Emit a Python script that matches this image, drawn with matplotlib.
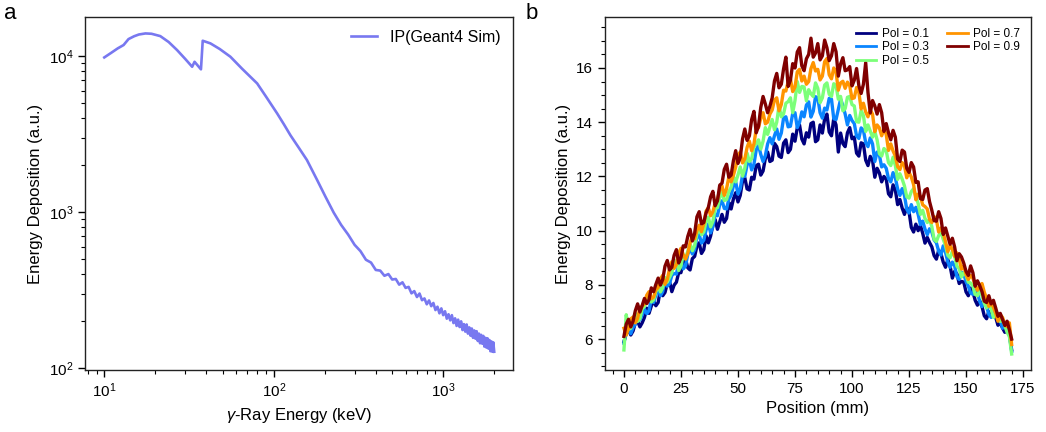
import matplotlib
matplotlib.use("Agg")
import matplotlib.pyplot as plt
from matplotlib.ticker import MultipleLocator

plt.rcParams['font.family'] = ['Liberation Sans', 'DejaVu Sans']
plt.rcParams['mathtext.fontset'] = 'custom'
plt.rcParams['mathtext.rm'] = 'Liberation Sans'
plt.rcParams['mathtext.it'] = 'Liberation Sans:italic'
plt.rcParams['mathtext.bf'] = 'Liberation Sans:bold'

# ---- panel a : IP (Geant4 Sim) spectrum ----
energy_low = [10, 11, 12, 13, 13.9, 15, 16, 17.5, 19, 21.4, 24, 26.9, 30, 33.0, 34.1,
              37.2, 38.1, 42.3, 48, 55.5, 65, 79.8, 90, 104.7, 115, 125.6, 140, 157,
              180, 202, 226]
dep_low = [9800, 10500, 11200, 11770, 12850, 13400, 13750, 13970, 13900, 13430, 12300,
           10920, 9600, 8540, 9190, 8220, 12540, 12060, 11100, 9900, 8300, 6680, 5500,
           4290, 3640, 3100, 2600, 2154, 1610, 1253, 990]
energy_high = list(range(250, 2001, 25))
dep_high = [826, 716, 616, 561, 494, 474, 425, 421, 390, 400,
            369, 372, 342, 354, 326, 331, 301, 311, 285, 300,
            272, 279, 256, 271, 249, 261, 235, 247, 224, 241,
            218, 231, 207, 221, 202, 218, 194, 208, 186, 204,
            183, 199, 175, 191, 171, 190, 166, 182, 161, 179,
            156, 174, 154, 172, 149, 166, 144, 163, 143, 160.5,
            137, 156, 135, 155, 133, 151, 128, 148, 127, 146,
            127]
energy = energy_low + energy_high
deposition = dep_low + dep_high

# ---- panel b : position profiles, 1 mm bins ----
position = list(range(0, 171))
pol_labels = ["Pol = 0.1", "Pol = 0.3", "Pol = 0.5", "Pol = 0.7", "Pol = 0.9"]
pol_colors = ["#00007f", "#0a85ff", "#7cff79", "#ff9400", "#800000"]
pol01 = [5.9, 6.2, 6.35, 6.15, 6.3, 6.6, 6.66, 6.45, 6.6, 6.8,
         7.14, 6.95, 7.22, 7.4, 7.23, 7.35, 7.84, 7.6, 7.72, 8.05,
         8.13, 7.75, 7.99, 8.1, 8.45, 8.45, 8.84, 8.95, 8.63, 8.55,
         8.97, 9.05, 9.43, 9.55, 9.16, 9.3, 9.81, 9.55, 9.8, 10.2,
         10.41, 10.05, 10.32, 10.6, 10.31, 10.45, 11.04, 10.8, 11.17, 11.4,
         11.06, 11.3, 11.83, 11.95, 11.54, 11.5, 11.97, 11.9, 12.4, 12.45,
         12.05, 12.2, 12.66, 12.9, 12.55, 12.6, 13.22, 13.1, 12.75, 12.7,
         13.23, 13.35, 12.88, 13.0, 13.56, 13.3, 13.79, 13.9, 13.38, 13.2,
         13.61, 13.45, 13.95, 14.0, 13.28, 13.35, 13.9, 13.6, 14.12, 14.3,
         13.64, 13.5, 14.14, 13.9, 12.9, 13.6, 13.21, 13.1, 13.61, 13.8,
         13.39, 13.45, 12.86, 12.75, 13.24, 13.2, 12.6, 12.4, 12.74, 12.6,
         11.97, 12.3, 12.13, 11.8, 12.0, 11.9, 11.36, 11.25, 11.69, 11.5,
         10.96, 11.15, 10.83, 10.6, 10.86, 10.7, 10.12, 9.95, 10.24, 10.0,
         10.19, 9.9, 9.54, 9.75, 9.56, 9.4, 9.08, 8.95, 9.28, 9.15,
         8.84, 8.65, 8.93, 8.7, 8.25, 8.5, 8.41, 8.05, 8.13, 8.1,
         7.74, 7.6, 7.88, 7.75, 7.43, 7.25, 7.42, 7.2, 6.86, 6.75,
         7.02, 6.85, 6.98, 6.8, 6.51, 6.6, 6.41, 6.25, 6.37, 6.2,
         5.6]
pol03 = [5.85, 6.3, 6.37, 6.2, 6.43, 6.55, 6.89, 6.7, 6.89, 7.1,
         6.94, 7.05, 7.49, 7.35, 7.63, 7.85, 7.6, 7.75, 8.2, 7.95,
         8.05, 8.35, 8.42, 8.4, 8.79, 8.9, 8.59, 8.7, 9.13, 9.35,
         9.14, 9.3, 9.76, 9.85, 9.54, 9.65, 10.02, 10.25, 9.92, 10.15,
         10.61, 10.55, 10.96, 11.1, 10.82, 10.8, 11.17, 11.3, 11.65, 11.8,
         11.35, 11.55, 12.05, 12.0, 12.43, 12.6, 12.24, 12.45, 12.98, 13.15,
         12.81, 12.55, 12.77, 13.2, 13.43, 13.2, 13.5, 13.75, 13.37, 13.6,
         14.16, 14.2, 13.83, 13.85, 14.32, 14.35, 13.8, 14.0, 14.38, 14.2,
         14.63, 14.75, 14.19, 14.4, 14.94, 14.9, 14.35, 14.15, 14.52, 14.45,
         14.88, 14.85, 14.13, 14.1, 14.47, 14.85, 14.61, 14.3, 13.9, 14.25,
         14.06, 13.95, 13.49, 13.4, 13.79, 13.7, 13.25, 13.1, 13.42, 13.2,
         12.55, 12.9, 12.79, 12.35, 12.43, 12.3, 11.92, 11.8, 12.14, 11.95,
         11.54, 11.3, 11.55, 11.3, 10.79, 10.65, 10.96, 10.7, 10.86, 10.6,
         10.22, 10.35, 10.06, 9.85, 10.07, 9.95, 9.66, 9.55, 9.24, 9.1,
         9.44, 9.2, 8.85, 8.65, 8.84, 8.7, 8.3, 8.2, 8.47, 8.4,
         8.12, 7.95, 7.7, 7.65, 7.92, 7.7, 7.39, 7.2, 7.38, 7.2,
         6.91, 6.8, 6.95, 7.05, 6.89, 6.7, 6.4, 6.5, 6.3, 6.15,
         5.55]
pol05 = [5.6, 6.9, 6.36, 6.4, 6.75, 6.95, 6.65, 6.75, 7.12, 7.2,
         7.49, 7.6, 7.37, 7.45, 7.75, 7.95, 7.74, 7.9, 8.27, 8.1,
         8.28, 8.45, 8.76, 8.9, 8.53, 8.7, 9.1, 9.0, 9.24, 9.5,
         9.26, 9.45, 9.89, 10.1, 9.85, 9.95, 10.34, 10.5, 10.14, 10.35,
         10.8, 10.85, 11.23, 11.4, 11.11, 11.15, 11.44, 11.6, 11.98, 11.8,
         12.05, 12.35, 12.01, 12.3, 12.86, 12.55, 12.65, 13.1, 13.2, 13.35,
         13.01, 13.3, 13.8, 13.55, 13.82, 14.1, 13.72, 14.0, 14.61, 14.2,
         14.31, 14.7, 14.76, 14.9, 14.35, 14.8, 15.5, 15.1, 15.32, 15.3,
         14.79, 15.2, 15.05, 14.95, 15.45, 15.25, 14.72, 14.9, 15.37, 15.45,
         15.03, 14.95, 15.42, 15.35, 14.85, 14.95, 14.42, 14.5, 14.92, 14.95,
         14.65, 14.6, 14.02, 14.0, 14.43, 14.25, 13.66, 13.9, 13.67, 13.45,
         13.66, 13.35, 12.84, 12.75, 13.03, 12.95, 12.51, 12.4, 12.71, 12.4,
         11.89, 12.1, 11.9, 11.65, 11.25, 11.2, 11.44, 11.55, 11.26, 11.0,
         10.6, 10.75, 10.45, 10.3, 10.41, 10.15, 9.68, 9.6, 9.82, 9.95,
         9.68, 9.45, 9.09, 9.0, 9.24, 9.05, 8.69, 8.6, 8.29, 8.45,
         8.35, 8.1, 8.07, 7.95, 7.65, 7.6, 7.8, 7.6, 7.32, 7.15,
         7.34, 7.1, 6.8, 6.95, 6.82, 6.65, 6.71, 6.5, 6.25, 6.1,
         5.45]
pol07 = [6.4, 6.15, 6.4, 6.75, 6.81, 6.6, 6.77, 7.15, 7.22, 7.3,
         7.62, 7.75, 7.49, 7.55, 7.82, 7.9, 8.23, 8.35, 8.02, 8.2,
         8.59, 8.85, 8.61, 8.75, 9.17, 9.35, 9.12, 8.95, 9.16, 9.55,
         9.81, 9.7, 10.0, 10.2, 9.96, 10.25, 10.72, 10.85, 10.55, 10.7,
         11.01, 11.15, 11.5, 11.65, 11.3, 11.55, 11.98, 11.8, 12.04, 12.35,
         12.77, 12.9, 12.5, 12.65, 13.07, 13.3, 12.95, 13.2, 13.75, 13.8,
         14.15, 14.35, 13.94, 14.0, 14.3, 14.45, 14.82, 14.9, 14.42, 14.65,
         15.18, 15.15, 15.49, 15.6, 15.13, 15.3, 15.86, 15.95, 15.52, 15.7,
         15.4, 15.5, 15.98, 16.2, 15.89, 15.95, 15.56, 15.7, 16.23, 16.35,
         15.75, 15.6, 16.0, 15.85, 15.18, 15.45, 15.51, 15.25, 15.48, 15.35,
         14.87, 14.9, 15.28, 15.1, 14.49, 14.7, 14.38, 14.2, 14.45, 14.3,
         13.65, 13.9, 13.79, 13.5, 13.74, 13.55, 12.96, 13.2, 12.94, 12.75,
         12.36, 12.25, 12.51, 12.4, 11.95, 12.15, 11.98, 11.7, 11.14, 11.35,
         11.27, 10.95, 10.89, 10.8, 10.41, 10.3, 10.52, 10.4, 9.95, 10.1,
         9.9, 9.6, 9.22, 9.45, 9.31, 9.05, 9.18, 8.95, 8.58, 8.7,
         8.38, 8.2, 8.35, 8.25, 7.98, 7.8, 7.96, 8.05, 7.73, 7.5,
         7.21, 7.35, 7.17, 6.95, 6.66, 6.9, 6.8, 6.55, 6.46, 6.6,
         5.8]
pol09 = [6.1, 6.55, 6.73, 6.45, 6.66, 7.05, 7.3, 7.0, 7.24, 7.5,
         7.31, 7.45, 7.89, 7.75, 8.02, 8.25, 7.99, 8.2, 8.69, 8.9,
         8.55, 8.65, 9.09, 9.3, 8.81, 9.0, 9.44, 9.4, 9.79, 10.05,
         9.62, 9.9, 10.51, 10.7, 10.25, 10.3, 10.65, 10.85, 11.25, 11.45,
         10.92, 11.1, 11.68, 11.75, 12.26, 12.45, 11.97, 12.05, 12.58, 12.95,
         12.48, 12.7, 13.38, 13.75, 13.33, 13.5, 14.1, 14.4, 13.61, 13.85,
         14.55, 14.95, 14.67, 14.35, 14.59, 14.9, 15.52, 15.8, 15.27, 15.4,
         15.97, 16.4, 15.32, 15.55, 16.16, 16.0, 16.59, 16.75, 16.08, 15.9,
         16.34, 16.5, 17.1, 16.4, 16.55, 16.9, 16.3, 16.45, 17.03, 16.75,
         16.27, 16.45, 16.9, 16.6, 15.7, 16.15, 16.38, 15.9, 15.93, 16.05,
         15.34, 15.55, 15.98, 15.35, 15.06, 15.4, 16.2, 15.1, 14.34, 14.8,
         14.6, 14.3, 14.65, 14.35, 13.66, 13.95, 13.61, 13.35, 13.7, 13.45,
         12.64, 12.55, 12.97, 12.9, 12.3, 12.15, 12.51, 12.35, 11.78, 11.8,
         11.18, 11.15, 11.5, 11.55, 11.07, 10.75, 10.37, 10.35, 10.7, 10.45,
         9.86, 10.1, 9.8, 9.5, 9.72, 9.4, 8.89, 9.15, 9.03, 8.8,
         8.5, 8.35, 8.7, 8.45, 7.95, 8.15, 7.97, 7.75, 7.4, 7.35,
         7.6, 7.3, 7.43, 7.15, 6.84, 6.95, 6.72, 6.5, 6.66, 6.35,
         6.0]
pol_series = [pol01, pol03, pol05, pol07, pol09]

fig = plt.figure(figsize=(10.46, 4.32), dpi=100)
ax1 = fig.add_axes([0.0813, 0.1435, 0.4091, 0.8171])
ax2 = fig.add_axes([0.5784, 0.1435, 0.4073, 0.8171])

ax1.plot(energy, deposition, color="#7878f0", lw=1.9, label="IP(Geant4 Sim)")
ax1.set_xscale("log")
ax1.set_yscale("log")
ax1.set_xlim(7.7, 2580)
ax1.set_ylim(97, 17800)
ax1.set_xlabel(r"$\gamma$-Ray Energy (keV)", fontsize=12)
ax1.set_ylabel("Energy Deposition (a.u.)", fontsize=12)
ax1.legend(loc="upper right", frameon=False, fontsize=11.5, handlelength=1.6,
           borderaxespad=0.4)

for vals, c, lab in zip(pol_series, pol_colors, pol_labels):
    ax2.plot(position, vals, color=c, lw=2.4, label=lab)
ax2.set_xlim(-8.3, 178.5)
ax2.set_ylim(4.86, 17.88)
ax2.set_xticks([0, 25, 50, 75, 100, 125, 150, 175])
ax2.set_yticks([6, 8, 10, 12, 14, 16])
ax2.xaxis.set_minor_locator(MultipleLocator(5))
ax2.yaxis.set_minor_locator(MultipleLocator(0.5))
ax2.set_xlabel("Position (mm)", fontsize=12)
ax2.set_ylabel("Energy Deposition (a.u.)", fontsize=12)
leg = ax2.legend(loc="upper right", ncol=2, frameon=False, fontsize=8.5, handlelength=1.7,
                 labelspacing=0.15, columnspacing=1.6, handletextpad=0.5, borderaxespad=0.5)
for h in leg.get_lines():
    h.set_linewidth(2.0)

for ax in (ax1, ax2):
    ax.tick_params(which="major", direction="out", length=5, width=1, labelsize=11)
    ax.tick_params(which="minor", direction="out", length=3, width=0.8)
    for s in ax.spines.values():
        s.set_linewidth(1.0)
        s.set_color("#222222")

fig.text(0.004, 0.992, "a", fontsize=16, va="top", ha="left")
fig.text(0.502, 0.992, "b", fontsize=16, va="top", ha="left")

fig.savefig("out.png", dpi=100)
